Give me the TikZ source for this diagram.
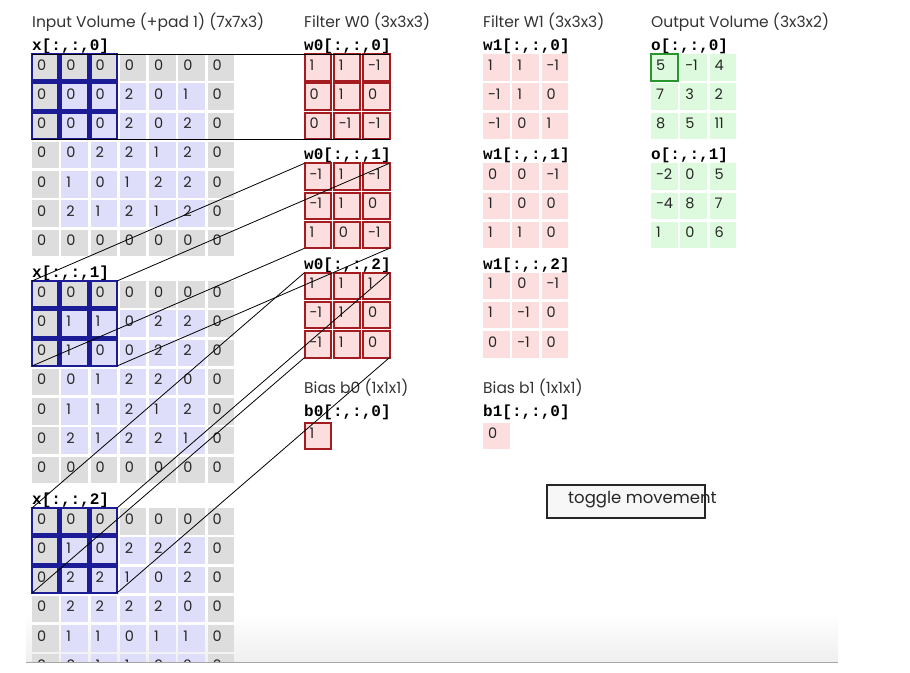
\documentclass[tikz,border=0pt]{standalone}
\usepackage{fontspec}
\setmainfont{Poppins}
\newfontfamily\codefont{Liberation Mono}
\usepackage{tikz}
\usetikzlibrary{positioning}

\definecolor{padgray}{RGB}{221,221,221}
\definecolor{inblue}{RGB}{222,222,250}
\definecolor{wpink}{RGB}{252,222,222}
\definecolor{ogreen}{RGB}{222,250,222}
\definecolor{winblue}{RGB}{28,28,150}
\definecolor{wred}{RGB}{165,28,32}
\definecolor{ogreenline}{RGB}{40,150,45}

% one 7x7 slice of the padded input (border cells grey)
\newcommand{\inslab}[3]{%
  \foreach \row [count=\ri from 0] in {#3} {
    \foreach \val [count=\ci from 0] in \row {
      \pgfmathtruncatemacro\ispad{(\ri==0)||(\ri==6)||(\ci==0)||(\ci==6)}
      \ifnum\ispad=1 \def\cellcol{padgray}\else\def\cellcol{inblue}\fi
      \node[cell, fill=\cellcol] (#1-\ri-\ci) at ({32+29.25*\ci},{#2+29.25*\ri}) {\makebox[16.5pt][l]{\val}};
    }
  }%
}
% one 3x3 slice (filter, bias or output)
\newcommand{\slab}[5]{%
  \foreach \row [count=\ri from 0] in {#5} {
    \foreach \val [count=\ci from 0] in \row {
      \node[cell, fill=#4] (#1-\ri-\ci) at ({#2+29.25*\ci},{#3+29.25*\ri}) {\makebox[16.5pt][l]{\val}};
    }
  }%
}

\begin{document}
\begin{tikzpicture}[x=1pt, y=-1pt,
    % Define styles for cells, captions and lines
    cell/.style={
        rectangle, anchor=north west, outer sep=0pt,
        inner xsep=5pt, inner ysep=0pt,
        minimum width=26.5pt, minimum height=26.5pt,
        text height=11pt, text depth=5.5pt,
        font=\fontsize{14.5}{14.5}\selectfont, text=black!85
    },
    slice/.style={
        anchor=base west, inner sep=0pt,
        font=\codefont\bfseries\fontsize{16}{16}\selectfont
    },
    title/.style={
        anchor=base west, inner sep=0pt,
        font=\fontsize{15.5}{15.5}\selectfont, text=black!80
    },
    window/.style={draw=winblue, line width=2.2pt},
    weight/.style={draw=wred, line width=2pt},
    link/.style={draw=black, line width=0.8pt},
    button/.style={
        draw=black!85, line width=2pt, fill=black!3,
        anchor=north west, minimum width=158pt, minimum height=33pt
    }
]
\useasboundingbox (0,0) rectangle (910,672);

% --- Page shadow at the bottom ---
\shade[top color=white, bottom color=black!6] (26,612) rectangle (838,662);

% --- Titles ---
\node[title] (tin) at (32,27) {Input Volume (+pad 1) (7x7x3)};
\node[title] (tw0) at (304,27) {Filter W0 (3x3x3)};
\node[title] (tw1) at (483,27) {Filter W1 (3x3x3)};
\node[title] (tout) at (651,27) {Output Volume (3x3x2)};
\node[title] (tb0) at (304,393) {Bias b0 (1x1x1)};
\node[title] (tb1) at (483,393) {Bias b1 (1x1x1)};

% --- Input volume ---
\begin{scope}
    \clip (0,0) rectangle (910,662);
    \inslab{x0}{54}{{0,0,0,0,0,0,0},{0,0,0,2,0,1,0},{0,0,0,2,0,2,0},{0,0,2,2,1,2,0},{0,1,0,1,2,2,0},{0,2,1,2,1,2,0},{0,0,0,0,0,0,0}}
    \inslab{x1}{281}{{0,0,0,0,0,0,0},{0,1,1,0,2,2,0},{0,1,0,0,2,2,0},{0,0,1,2,2,0,0},{0,1,1,2,1,2,0},{0,2,1,2,2,1,0},{0,0,0,0,0,0,0}}
    \inslab{x2}{508}{{0,0,0,0,0,0,0},{0,1,0,2,2,2,0},{0,2,2,1,0,2,0},{0,2,2,2,2,0,0},{0,1,1,0,1,1,0},{0,0,1,1,0,2,0},{0,0,0,0,0,0,0}}
    \foreach \d in {0,1,2}
        \node[slice] (lx\d) at (32,{50+227*\d}) {x[:,:,\d]};
\end{scope}

% --- Filters, biases and output ---
\slab{w00}{304.5}{54}{wpink}{{1,1,-1},{0,1,0},{0,-1,-1}}
\slab{w01}{304.5}{163.3}{wpink}{{-1,1,-1},{-1,1,0},{1,0,-1}}
\slab{w02}{304.5}{272.6}{wpink}{{1,1,1},{-1,1,0},{-1,1,0}}
\slab{w10}{483}{54}{wpink}{{1,1,-1},{-1,1,0},{-1,0,1}}
\slab{w11}{483}{163.3}{wpink}{{0,0,-1},{1,0,0},{1,1,0}}
\slab{w12}{483}{272.6}{wpink}{{1,0,-1},{1,-1,0},{0,-1,0}}
\slab{b0}{304.5}{422.5}{wpink}{{1}}
\slab{b1}{483}{422.5}{wpink}{{0}}
\slab{o0}{651}{54}{ogreen}{{5,-1,4},{7,3,2},{8,5,11}}
\slab{o1}{651}{163.3}{ogreen}{{-2,0,5},{-4,8,7},{1,0,6}}

\foreach \d in {0,1,2} {
    \node[slice] (lw0\d) at (304,{50.5+109.3*\d}) {w0[:,:,\d]};
    \node[slice] (lw1\d) at (483,{50.5+109.3*\d}) {w1[:,:,\d]};
}
\foreach \d in {0,1}
    \node[slice] (lo\d) at (651,{50.5+109.3*\d}) {o[:,:,\d]};
\node[slice] (lb0) at (304,416) {b0[:,:,0]};
\node[slice] (lb1) at (483,416) {b1[:,:,0]};

% --- Highlighted window, filter W0 and output cell ---
\foreach \d in {0,1,2}
    \foreach \r in {0,1,2}
        \foreach \c in {0,1,2} {
            \draw[window] (x\d-\r-\c.north west) rectangle (x\d-\r-\c.south east);
            \draw[weight] (w0\d-\r-\c.north west) rectangle (w0\d-\r-\c.south east);
        }
\draw[weight] (b0-0-0.north west) rectangle (b0-0-0.south east);
\draw[draw=ogreenline, line width=2pt] (o0-0-0.north west) rectangle (o0-0-0.south east);

% --- Lines from window corners to filter corners ---
\foreach \d in {0,1,2} {
    \draw[link] (x\d-0-0.north west) -- (w0\d-0-0.north west);
    \draw[link] (x\d-0-2.north east) -- (w0\d-0-2.north east);
    \draw[link] (x\d-2-0.south west) -- (w0\d-2-0.south west);
    \draw[link] (x\d-2-2.south east) -- (w0\d-2-2.south east);
}

% --- Button ---
\node[button] (toggle) at (545.7,484) {};
\node[title, text=black!85, font=\fontsize{16.5}{16.5}\selectfont] (toggletext) at (568,503) {toggle movement};

% --- Bottom edge ---
\draw[black!35, line width=1pt] (26,662) -- (838,662);

\end{tikzpicture}
\end{document}
